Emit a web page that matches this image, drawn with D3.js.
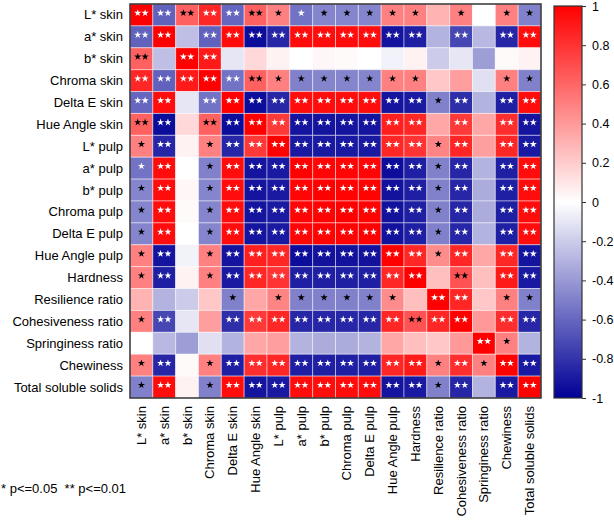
<!DOCTYPE html>
<html>
<head>
<meta charset="utf-8">
<script src="https://cdn.jsdelivr.net/npm/d3@7"></script>
<style>
  body { margin: 0; background: #fff; }
  svg text { font-family: "Liberation Sans", Arial, sans-serif; fill: #000; }
</style>
</head>
<body>
<svg id="chart" width="614" height="520"></svg>
<script>
// variable names, same order on both axes
var names = ["L* skin", "a* skin", "b* skin", "Chroma skin", "Delta E skin", "Hue Angle skin",
    "L* pulp", "a* pulp", "b* pulp", "Chroma pulp", "Delta E pulp", "Hue Angle pulp",
    "Hardness", "Resilience ratio", "Cohesiveness ratio", "Springiness ratio", "Chewiness",
    "Total soluble solids"];

// correlation coefficients
var corr = [
    [1, -0.62, 0.62, 0.85, -0.6, 0.62, 0.5, -0.55, -0.48, -0.48, -0.48, 0.5, 0.5, 0.3, 0.5, 0, 0.5, -0.5],
    [-0.62, 1, -0.25, -0.62, 0.95, -0.95, -0.85, 0.95, 0.95, 0.95, 0.95, -0.92, -0.88, -0.3, -0.72, -0.28, -0.85, 0.95],
    [0.62, -0.25, 1, 0.9, -0.1, 0.15, 0.05, 0, 0.03, 0.02, 0, -0.05, 0.05, -0.2, -0.1, -0.38, 0.02, 0.05],
    [0.85, -0.62, 0.9, 1, -0.55, 0.62, 0.5, -0.5, -0.48, -0.48, -0.48, 0.5, 0.5, 0.22, 0.38, -0.12, 0.5, -0.5],
    [-0.6, 0.95, -0.1, -0.55, 1, -0.95, -0.85, 0.95, 0.95, 0.95, 0.95, -0.92, -0.9, -0.5, -0.82, -0.3, -0.88, 0.95],
    [0.62, -0.95, 0.15, 0.62, -0.95, 1, 0.78, -0.92, -0.92, -0.92, -0.92, 0.88, 0.85, 0.35, 0.78, 0.35, 0.82, -0.92],
    [0.5, -0.85, 0.05, 0.5, -0.85, 0.78, 1, -0.9, -0.9, -0.9, -0.9, 0.85, 0.8, 0.48, 0.85, 0.38, 0.85, -0.9],
    [-0.55, 0.95, 0, -0.5, 0.95, -0.92, -0.9, 1, 0.98, 0.98, 0.98, -0.95, -0.88, -0.5, -0.85, -0.3, -0.88, 0.95],
    [-0.48, 0.95, 0.03, -0.48, 0.95, -0.92, -0.9, 0.98, 1, 0.99, 0.99, -0.93, -0.88, -0.5, -0.85, -0.33, -0.88, 0.95],
    [-0.48, 0.95, 0.02, -0.48, 0.95, -0.92, -0.9, 0.98, 0.99, 1, 0.99, -0.93, -0.88, -0.5, -0.85, -0.33, -0.88, 0.95],
    [-0.48, 0.95, 0, -0.48, 0.95, -0.92, -0.9, 0.98, 0.99, 0.99, 1, -0.93, -0.88, -0.5, -0.85, -0.3, -0.88, 0.95],
    [0.5, -0.92, -0.05, 0.5, -0.92, 0.88, 0.85, -0.95, -0.93, -0.93, -0.93, 1, 0.85, 0.45, 0.85, 0.35, 0.85, -0.92],
    [0.5, -0.88, 0.05, 0.5, -0.9, 0.85, 0.8, -0.88, -0.88, -0.88, -0.88, 0.85, 1, 0.25, 0.68, 0.25, 0.9, -0.9],
    [0.3, -0.3, -0.2, 0.22, -0.5, 0.35, 0.48, -0.5, -0.5, -0.5, -0.5, 0.45, 0.25, 1, 0.85, 0.22, 0.5, -0.5],
    [0.5, -0.72, -0.1, 0.38, -0.82, 0.78, 0.85, -0.85, -0.85, -0.85, -0.85, 0.85, 0.68, 0.85, 1, 0.4, 0.82, -0.85],
    [0, -0.28, -0.38, -0.12, -0.3, 0.35, 0.38, -0.3, -0.33, -0.33, -0.3, 0.35, 0.25, 0.22, 0.4, 1, 0.5, -0.3],
    [0.5, -0.85, 0.02, 0.5, -0.88, 0.82, 0.85, -0.88, -0.88, -0.88, -0.88, 0.85, 0.9, 0.5, 0.82, 0.5, 1, -0.9],
    [-0.5, 0.95, 0.05, -0.5, 0.95, -0.92, -0.9, 0.95, 0.95, 0.95, 0.95, -0.92, -0.9, -0.5, -0.85, -0.3, -0.9, 1]
];

// number of stars: 1 = p<=0.05, 2 = p<=0.01
var stars = [
    [2, 2, 2, 2, 2, 2, 1, 1, 1, 1, 1, 1, 1, 0, 1, 0, 1, 1],
    [2, 2, 0, 2, 2, 2, 2, 2, 2, 2, 2, 2, 2, 0, 2, 0, 2, 2],
    [2, 0, 2, 2, 0, 0, 0, 0, 0, 0, 0, 0, 0, 0, 0, 0, 0, 0],
    [2, 2, 2, 2, 2, 2, 1, 1, 1, 1, 1, 1, 1, 0, 0, 0, 1, 1],
    [2, 2, 0, 2, 2, 2, 2, 2, 2, 2, 2, 2, 2, 1, 2, 0, 2, 2],
    [2, 2, 0, 2, 2, 2, 2, 2, 2, 2, 2, 2, 2, 0, 2, 0, 2, 2],
    [1, 2, 0, 1, 2, 2, 2, 2, 2, 2, 2, 2, 2, 1, 2, 0, 2, 2],
    [1, 2, 0, 1, 2, 2, 2, 2, 2, 2, 2, 2, 2, 1, 2, 0, 2, 2],
    [1, 2, 0, 1, 2, 2, 2, 2, 2, 2, 2, 2, 2, 1, 2, 0, 2, 2],
    [1, 2, 0, 1, 2, 2, 2, 2, 2, 2, 2, 2, 2, 1, 2, 0, 2, 2],
    [1, 2, 0, 1, 2, 2, 2, 2, 2, 2, 2, 2, 2, 1, 2, 0, 2, 2],
    [1, 2, 0, 1, 2, 2, 2, 2, 2, 2, 2, 2, 2, 1, 2, 0, 2, 2],
    [1, 2, 0, 1, 2, 2, 2, 2, 2, 2, 2, 2, 2, 0, 2, 0, 2, 2],
    [0, 0, 0, 0, 1, 0, 1, 1, 1, 1, 1, 1, 0, 2, 2, 0, 1, 1],
    [1, 2, 0, 0, 2, 2, 2, 2, 2, 2, 2, 2, 2, 2, 2, 0, 2, 2],
    [0, 0, 0, 0, 0, 0, 0, 0, 0, 0, 0, 0, 0, 0, 0, 2, 1, 0],
    [1, 2, 0, 1, 2, 2, 2, 2, 2, 2, 2, 2, 2, 1, 2, 1, 2, 2],
    [1, 2, 0, 1, 2, 2, 2, 2, 2, 2, 2, 2, 2, 1, 2, 0, 2, 2]
];

var colorTicks = [1, 0.8, 0.6, 0.4, 0.2, 0, -0.2, -0.4, -0.6, -0.8, -1];
var legendText = "* p<=0.05  ** p<=0.01";

var svg = d3.select("#chart");
var gridL = 130, gridR = 541, gridT = 4, gridB = 398;

var x = d3.scaleBand().domain(d3.range(names.length)).range([gridL, gridR]);
var y = d3.scaleBand().domain(d3.range(names.length)).range([gridT, gridB]);
var color = d3.scaleLinear().domain([-1, 0, 1]).range(["#000096", "#ffffff", "#ff0000"]);

// flatten matrix into cells
var cells = [];
corr.forEach(function(row, i) {
    row.forEach(function(v, j) {
        cells.push({ r: i, c: j, v: v, s: stars[i][j] });
    });
});

svg.append("g").selectAll("rect").data(cells).enter().append("rect")
    .attr("x", function(d) { return x(d.c); })
    .attr("y", function(d) { return y(d.r); })
    .attr("width", x.bandwidth())
    .attr("height", y.bandwidth())
    .attr("fill", function(d) { return color(d.v); })
    .attr("stroke", "rgba(255,255,255,0.45)")
    .attr("stroke-width", 1);

// significance stars
var star = d3.symbol(d3.symbolStar).size(16);
var starGroup = svg.append("g");
cells.filter(function(d) { return d.s > 0; }).forEach(function(d) {
    var cx = x(d.c) + x.bandwidth() / 2;
    var cy = y(d.r) + y.bandwidth() / 2 - 2;
    var fill = (d.v <= -0.53 || d.v >= 0.72) ? "#fff" : "#000";
    var offs = d.s === 2 ? [-3.7, 3.7] : [0];
    offs.forEach(function(o) {
        starGroup.append("path")
            .attr("d", star)
            .attr("transform", "translate(" + (cx + o) + "," + cy + ")")
            .attr("fill", fill);
    });
});

svg.append("rect")
    .attr("x", gridL).attr("y", gridT)
    .attr("width", gridR - gridL).attr("height", gridB - gridT)
    .attr("fill", "none").attr("stroke", "#333").attr("stroke-width", 1.5);

// row labels
svg.append("g").selectAll("text").data(names).enter().append("text")
    .attr("x", gridL - 7)
    .attr("y", function(d, i) { return y(i) + y.bandwidth() / 2; })
    .attr("dy", "0.35em")
    .attr("text-anchor", "end")
    .style("font-size", "13px")
    .text(function(d) { return d; });

// column labels
svg.append("g").selectAll("text").data(names).enter().append("text")
    .attr("transform", function(d, i) {
        return "translate(" + (x(i) + x.bandwidth() / 2) + "," + (gridB + 8) + ") rotate(-90)";
    })
    .attr("dy", "0.35em")
    .attr("text-anchor", "end")
    .style("font-size", "13px")
    .text(function(d) { return d; });

// colour bar
var barX = 554, barW = 28, barT = 6;
var cb = d3.scaleLinear().domain([-1, 1]).range([gridB, barT]);
var grad = svg.append("defs").append("linearGradient")
    .attr("id", "cbar").attr("x1", 0).attr("y1", 1).attr("x2", 0).attr("y2", 0);
d3.range(-1, 1.0001, 0.1).forEach(function(t) {
    grad.append("stop")
        .attr("offset", ((t + 1) / 2 * 100) + "%")
        .attr("stop-color", color(t));
});
svg.append("rect")
    .attr("x", barX).attr("y", barT)
    .attr("width", barW).attr("height", gridB - barT)
    .attr("fill", "url(#cbar)")
    .attr("stroke", "#333").attr("stroke-width", 1.2);

var axis = d3.axisRight(cb).tickValues(colorTicks).tickSize(4).tickPadding(6)
    .tickFormat(function(d) { return String(Math.round(d * 10) / 10); });
var ag = svg.append("g").attr("transform", "translate(" + (barX + barW) + ",0)").call(axis);
ag.select(".domain").remove();
ag.selectAll("line").attr("stroke", "#333");
ag.selectAll("text").style("font-size", "12.5px")
    .style("font-family", "'Liberation Sans', Arial, sans-serif");

// legend
svg.append("text")
    .attr("x", 1).attr("y", 493)
    .style("font-size", "13px")
    .style("white-space", "pre")
    .text(legendText);
</script>
</body>
</html>
